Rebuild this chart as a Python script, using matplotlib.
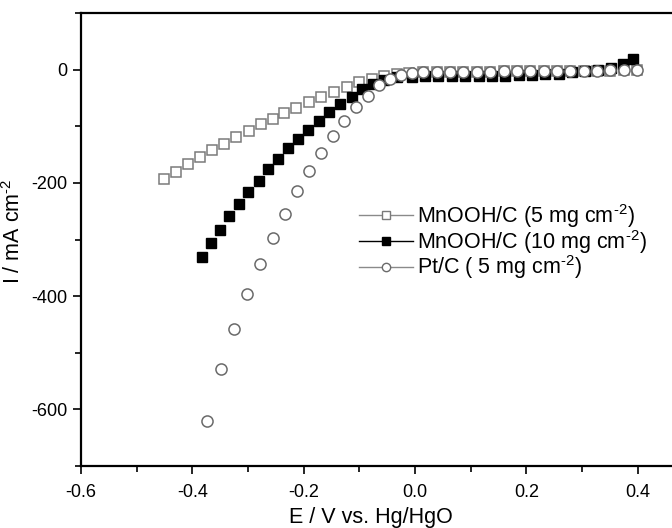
"""
Polarisation curves: MnOOH/C (5 and 10 mg cm-2) vs Pt/C
"""
import matplotlib
matplotlib.use('Agg')
import matplotlib.pyplot as plt
from matplotlib.lines import Line2D
from matplotlib.ticker import MultipleLocator

plt.rcParams['font.family'] = ['Liberation Sans', 'DejaVu Sans']
plt.rcParams['mathtext.fontset'] = 'custom'
plt.rcParams['mathtext.rm'] = 'Liberation Sans'
plt.rcParams['mathtext.it'] = 'Liberation Sans'

# MnOOH/C (5 mg cm-2), open squares
E_MN5 = [-0.451, -0.430, -0.408, -0.386, -0.365, -0.343, -0.322, -0.299, -0.277, -0.256,
         -0.235, -0.213, -0.190, -0.169, -0.146, -0.123, -0.100, -0.078, -0.055, -0.033,
         -0.011, 0.015, 0.039, 0.063, 0.087, 0.111, 0.135, 0.159, 0.183, 0.207,
         0.231, 0.255, 0.279, 0.303, 0.327, 0.351, 0.375, 0.398]
I_MN5 = [-193, -181, -167, -155, -142, -131, -119, -108, -96, -87,
         -76, -67, -57, -48, -39, -30, -22, -16, -11, -7.6,
         -5.5, -4.6, -4.3, -4.1, -3.9, -3.7, -3.5, -3.3, -3.1, -2.9,
         -2.7, -2.5, -2.3, -2.1, -1.9, -1.6, -1.3, -1.1]

# MnOOH/C (10 mg cm-2), filled squares
E_MN10 = [-0.383, -0.367, -0.350, -0.334, -0.317, -0.300, -0.281, -0.265, -0.247, -0.229,
          -0.210, -0.192, -0.172, -0.154, -0.135, -0.114, -0.095, -0.075, -0.055, -0.033,
          -0.006, 0.018, 0.042, 0.066, 0.090, 0.114, 0.138, 0.162, 0.186, 0.210,
          0.234, 0.258, 0.282, 0.306, 0.329, 0.352, 0.373, 0.392]
I_MN10 = [-331, -307, -283, -259, -237, -216, -196, -176, -157, -139,
          -123, -106, -90, -75, -61, -48, -35, -25, -18, -13.5,
          -12.3, -12, -11.8, -11.5, -11.3, -11, -10.7, -10.4, -10, -9.5,
          -8.5, -7, -5, -3, 0, 3.5, 9.5, 18]

# Pt/C (5 mg cm-2), open circles
E_PT = [-0.374, -0.349, -0.325, -0.302, -0.279, -0.256, -0.234, -0.212, -0.190, -0.169,
        -0.148, -0.127, -0.106, -0.085, -0.064, -0.045, -0.025, -0.005, 0.015, 0.039,
        0.063, 0.087, 0.111, 0.135, 0.159, 0.183, 0.207, 0.231, 0.255, 0.279,
        0.303, 0.327, 0.351, 0.375, 0.398]
I_PT = [-621, -529, -458, -396, -344, -297, -255, -215, -179, -147,
        -117, -90, -66, -46, -28, -16, -9, -6.5, -4.7, -4.2,
        -4, -3.8, -3.6, -3.4, -3.2, -3, -2.8, -2.6, -2.4, -2.2,
        -2, -1.8, -1.5, -1.2, -1]

SUP = r'$^{\mathregular{-2}}$'.replace('-', '\u2010')
LABELS = ['MnOOH/C (5 mg cm' + SUP + ')',
          'MnOOH/C (10 mg cm' + SUP + ')',
          'Pt/C ( 5 mg cm' + SUP + ')']

fig = plt.figure(figsize=(6.72, 5.28), dpi=100)
# axes runs past the right edge, as in the cropped original
ax = fig.add_axes([81 / 672, 62 / 528, 612.4 / 672, 453 / 528])

ax.plot(E_MN5, I_MN5, 's', ms=7.5, mfc='white', mec='#7a7a7a', mew=1.1, ls='none', zorder=2)
ax.plot(E_MN10, I_MN10, 's', ms=7.5, mfc='black', mec='black', mew=1.0, ls='none', zorder=3)
ax.plot(E_PT, I_PT, 'o', ms=8, mfc='white', mec='#6a6a6a', mew=1.1, ls='none', zorder=4)

ax.set_xlim(-0.6, 0.5)
ax.set_ylim(-700, 100)
ax.xaxis.set_major_locator(MultipleLocator(0.2))
ax.xaxis.set_minor_locator(MultipleLocator(0.1))
ax.yaxis.set_major_locator(MultipleLocator(200))
ax.yaxis.set_minor_locator(MultipleLocator(100))
ax.xaxis.set_major_formatter(plt.FuncFormatter(lambda v, p: '{0:.1f}'.format(v).replace('-0.0', '0.0')))
ax.yaxis.set_major_formatter(plt.FuncFormatter(lambda v, p: '{0:d}'.format(int(round(v)))))
ax.tick_params(which='major', direction='out', length=6, width=1.2, labelsize=13, pad=4)
ax.tick_params(which='minor', direction='out', length=4, width=1.2)
ax.tick_params(axis='x', which='major', pad=7)
for side in ['left', 'bottom', 'top', 'right']:
    ax.spines[side].set_linewidth(1.6)

ax.set_xlabel('E / V vs. Hg/HgO', fontsize=15.5)
ax.set_ylabel('I / mA cm' + SUP, fontsize=15.5)
ax.xaxis.set_label_coords((371 - 81) / 612.4, -0.09)
ax.yaxis.set_label_coords(-0.092, (466 - 231) / 453)

handles = [
    Line2D([], [], color='#8a8a8a', lw=1.0, marker='s', ms=6, mfc='white', mec='#7a7a7a'),
    Line2D([], [], color='black', lw=1.0, marker='s', ms=6, mfc='black', mec='black'),
    Line2D([], [], color='#8a8a8a', lw=1.0, marker='o', ms=6, mfc='white', mec='#6a6a6a'),
]
fig.legend(handles, LABELS, loc='upper left', bbox_to_anchor=(359 / 672, 1 - 202 / 528),
           frameon=False, fontsize=15.5, handlelength=2.5, handletextpad=0.2,
           labelspacing=-0.1, borderpad=0, borderaxespad=0)

plt.savefig('out.png', dpi=100)
